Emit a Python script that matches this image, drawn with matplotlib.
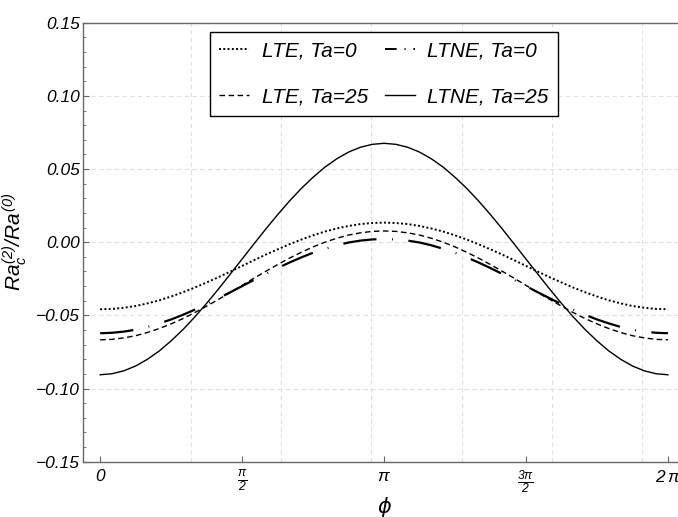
import numpy as np
import matplotlib
matplotlib.use('Agg')
import matplotlib.pyplot as plt
from matplotlib.ticker import MultipleLocator
from matplotlib.lines import Line2D

plt.rcParams['font.family'] = ['Liberation Sans', 'DejaVu Sans']
plt.rcParams['font.style'] = 'italic'
plt.rcParams['mathtext.fontset'] = 'custom'
plt.rcParams['mathtext.it'] = 'Liberation Sans:italic'
plt.rcParams['mathtext.rm'] = 'Liberation Sans:italic'

# phi sampled every pi/24 from 0 to 2*pi
phi = np.arange(49) * np.pi / 24

# values
lte_ta0 = [-0.0458, -0.0456, -0.0448, -0.0436, -0.0418, -0.0397, -0.0371,
           -0.0342, -0.0310, -0.0275, -0.0239, -0.0201, -0.0162, -0.0123,
           -0.0085, -0.0049, -0.0014, 0.0018, 0.0047, 0.0073, 0.0094, 0.0111,
           0.0124, 0.0131, 0.0134, 0.0131, 0.0124, 0.0111, 0.0094, 0.0073,
           0.0047, 0.0018, -0.0014, -0.0049, -0.0085, -0.0123, -0.0162,
           -0.0201, -0.0239, -0.0275, -0.0310, -0.0342, -0.0371, -0.0397,
           -0.0418, -0.0436, -0.0448, -0.0456, -0.0458]
ltne_ta0 = [-0.0622, -0.0619, -0.0611, -0.0598, -0.0579, -0.0555, -0.0528,
            -0.0496, -0.0461, -0.0423, -0.0383, -0.0342, -0.0300, -0.0258,
            -0.0217, -0.0177, -0.0139, -0.0104, -0.0072, -0.0045, -0.0021,
            -0.0002, 0.0011, 0.0019, 0.0022, 0.0019, 0.0011, -0.0002, -0.0021,
            -0.0045, -0.0072, -0.0104, -0.0139, -0.0177, -0.0217, -0.0258,
            -0.0300, -0.0342, -0.0383, -0.0423, -0.0461, -0.0496, -0.0528,
            -0.0555, -0.0579, -0.0598, -0.0611, -0.0619, -0.0622]
lte_ta25 = [-0.0667, -0.0664, -0.0654, -0.0639, -0.0617, -0.0590, -0.0558,
            -0.0522, -0.0481, -0.0437, -0.0391, -0.0344, -0.0295, -0.0246,
            -0.0199, -0.0153, -0.0109, -0.0069, -0.0032, 0.0000, 0.0027,
            0.0049, 0.0064, 0.0074, 0.0077, 0.0074, 0.0064, 0.0049, 0.0027,
            0.0000, -0.0032, -0.0069, -0.0109, -0.0153, -0.0199, -0.0246,
            -0.0295, -0.0344, -0.0391, -0.0437, -0.0481, -0.0522, -0.0558,
            -0.0590, -0.0617, -0.0639, -0.0654, -0.0664, -0.0667]
ltne_ta25 = [-0.0906, -0.0899, -0.0879, -0.0846, -0.0800, -0.0743, -0.0674,
             -0.0597, -0.0511, -0.0418, -0.0320, -0.0218, -0.0115, -0.0012,
             0.0090, 0.0188, 0.0281, 0.0367, 0.0444, 0.0513, 0.0570, 0.0616,
             0.0649, 0.0669, 0.0676, 0.0669, 0.0649, 0.0616, 0.0570, 0.0513,
             0.0444, 0.0367, 0.0281, 0.0188, 0.0090, -0.0012, -0.0115,
             -0.0218, -0.0320, -0.0418, -0.0511, -0.0597, -0.0674, -0.0743,
             -0.0800, -0.0846, -0.0879, -0.0899, -0.0906]

labels = ['LTE, Ta=0', 'LTE, Ta=25', 'LTNE, Ta=0', 'LTNE, Ta=25']
xticks = [0, np.pi / 2, np.pi, 3 * np.pi / 2, 2 * np.pi]
xticklabels = ['0', r'$\frac{\pi}{2}$', r'$\pi$', r'$\frac{3\pi}{2}$', r'$2\,\pi$']
yticks = [-0.15, -0.10, -0.05, 0.00, 0.05, 0.10, 0.15]
yticklabels = ['\u22120.15', '\u22120.10', '\u22120.05', '0.00', '0.05', '0.10', '0.15']

fig = plt.figure(figsize=(6.78, 5.17), dpi=100)
ax = fig.add_axes([0.1224, 0.107, 0.889, 0.849])

l1, = ax.plot(phi, lte_ta0, color='black', lw=1.4, linestyle=(0, (1, 1.2)))
l3, = ax.plot(phi, lte_ta25, color='black', lw=1.0, linestyle=(0, (4, 2.5)))
ax.plot(phi, ltne_ta0, color='black', lw=1.6, linestyle=(0, (15, 7, 0.4, 7)))
l4, = ax.plot(phi, ltne_ta25, color='black', lw=1.0)
# legend proxy so the short handle still shows "dash . dot"
l2 = Line2D([], [], color='black', lw=1.4, linestyle=(0, (6, 4, 0.6, 4)))

ax.set_xlim(-0.19, 6.48)
ax.set_ylim(-0.15, 0.15)
ax.set_xticks(xticks)
ax.set_xticklabels(xticklabels)
ax.set_yticks(yticks)
ax.set_yticklabels(yticklabels)
ax.yaxis.set_minor_locator(MultipleLocator(0.01))
ax.tick_params(axis='both', which='both', direction='in', labelsize=12.5,
               color='#666666')
ax.tick_params(axis='both', which='major', length=4)
ax.tick_params(axis='both', which='minor', length=2)
ax.tick_params(axis='y', pad=2)
ax.tick_params(axis='x', pad=5)

# dashed grid at integer phi and every 0.05
for gx in range(1, 7):
    ax.axvline(gx, color='#e0e0e0', lw=0.8, ls=(0, (4, 3)), zorder=0)
for gy in [-0.10, -0.05, 0.0, 0.05, 0.10]:
    ax.axhline(gy, color='#e0e0e0', lw=0.8, ls=(0, (4, 3)), zorder=0)

for s in ax.spines.values():
    s.set_color('#666666')
    s.set_linewidth(1.0)

ax.set_xlabel('\u03d5', fontsize=15, family='DejaVu Sans', style='italic',
              labelpad=1)
ax.set_ylabel(r'$Ra_c^{(2)}/Ra^{(0)}$', fontsize=15, labelpad=5)

leg = fig.legend([l1, l3, l2, l4], labels,
                 ncol=2, loc='upper center', bbox_to_anchor=(0.566, 0.938),
                 borderaxespad=0, fontsize=15, frameon=True, fancybox=False,
                 framealpha=1, edgecolor='black', handlelength=1.45,
                 handletextpad=0.6, columnspacing=0.8, labelspacing=1.3,
                 borderpad=0.45)
leg.get_frame().set_linewidth(1.0)

fig.savefig('out.png', dpi=100)
